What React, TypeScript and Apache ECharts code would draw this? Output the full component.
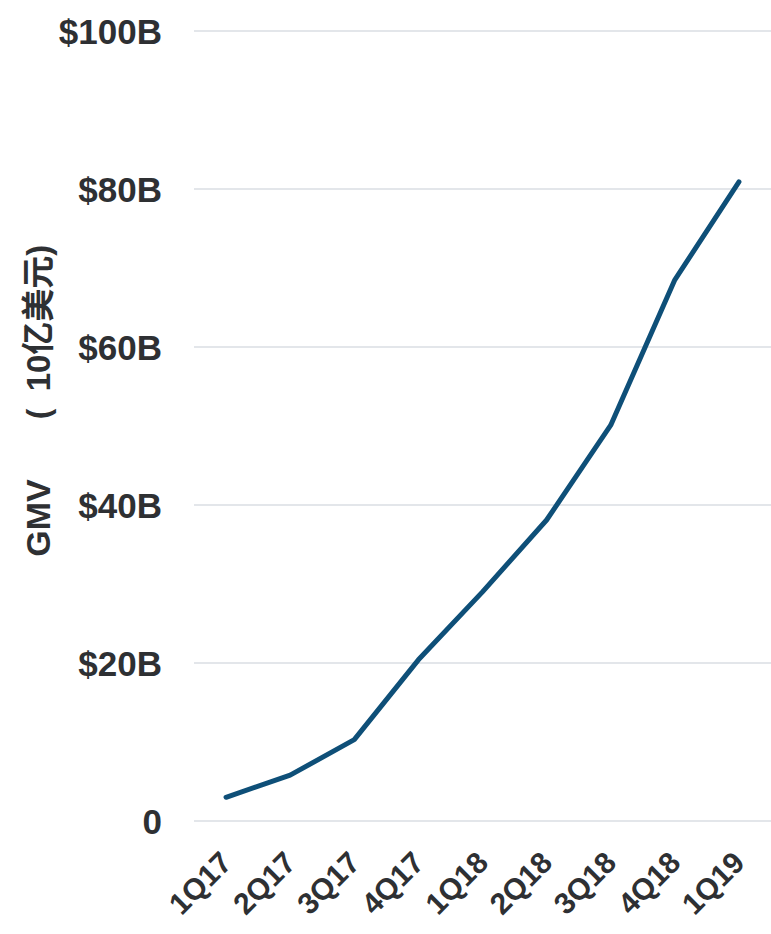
import React, { useEffect, useRef } from "react";
import * as echarts from "echarts";

const categories = ["1Q17", "2Q17", "3Q17", "4Q17", "1Q18", "2Q18", "3Q18", "4Q18", "1Q19"];
const gmvValues = [3.0, 5.8, 10.3, 20.4, 29.0, 38.1, 50.1, 68.5, 80.9];
const yTicks = [0, 20, 40, 60, 80, 100];
const yAxisNameParts = ["GMV", "(", "10亿美元)"];

const FONT = "'Liberation Sans', Arial, 'Noto Sans CJK SC', sans-serif";

export default function App() {
  const ref = useRef<HTMLDivElement>(null);
  useEffect(() => {
    if (!ref.current) return;
    const chart = echarts.init(ref.current, undefined, { renderer: "svg" });
    const namePos = [
      { y: 518, size: 34 },
      { y: 414, size: 32 },
      { y: 318, size: 33 },
    ];
    chart.setOption({
      animation: false,
      backgroundColor: "#ffffff",
      grid: { left: 194, top: 31, bottom: 113, width: 583, containLabel: false },
      xAxis: {
        type: "category",
        data: categories,
        boundaryGap: true,
        axisLine: { show: false },
        axisTick: { show: false },
        axisLabel: {
          rotate: 45,
          interval: 0,
          margin: 36,
          color: "#2e3033",
          fontSize: 30,
          fontWeight: "bold",
          fontFamily: FONT,
        },
      },
      yAxis: {
        type: "value",
        min: yTicks[0],
        max: yTicks[yTicks.length - 1],
        interval: 20,
        axisLine: { show: false },
        axisTick: { show: false },
        splitLine: { lineStyle: { color: "#e3e6ea", width: 2 } },
        axisLabel: {
          margin: 32,
          color: "#2e3033",
          fontSize: 35,
          fontWeight: "bold",
          fontFamily: FONT,
          formatter: (v: number) => (v === 0 ? "0" : `$${v}B`),
        },
      },
      graphic: yAxisNameParts.map((t, i) => ({
        type: "text",
        x: 38,
        y: namePos[i].y,
        rotation: Math.PI / 2,
        style: {
          text: t,
          fill: "#2e3033",
          fontSize: namePos[i].size,
          fontWeight: "bold",
          fontFamily: FONT,
          align: "center",
          verticalAlign: "middle",
        },
      })),
      series: [
        {
          type: "line",
          data: gmvValues,
          symbol: "none",
          lineStyle: { color: "#0e4f78", width: 5, cap: "round", join: "round" },
        },
      ],
    });
    return () => chart.dispose();
  }, []);
  return <div ref={ref} style={{ width: 771, height: 934, position: "absolute", left: 0, top: 0 }} />;
}
